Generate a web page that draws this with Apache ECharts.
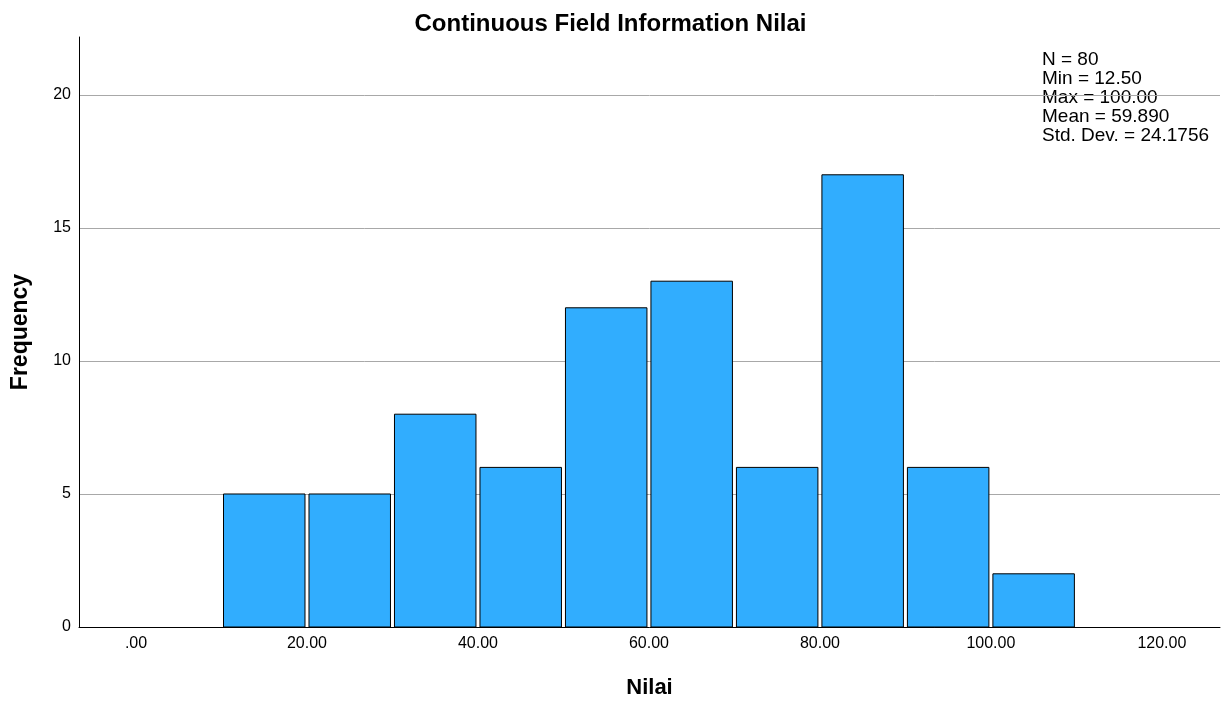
<!DOCTYPE html>
<html><head><meta charset="utf-8">
<script src="https://cdn.jsdelivr.net/npm/echarts@6/dist/echarts.min.js"></script>
<style>html,body{margin:0;padding:0;background:#fff}#c{width:1221px;height:704px}</style>
</head><body><div id="c"></div>
<script>
var binStarts = [10, 20, 30, 40, 50, 60, 70, 80, 90, 100];
var binWidth = 10;
var counts = [5, 5, 8, 6, 12, 13, 6, 17, 6, 2];
var xTicks = [0, 20, 40, 60, 80, 100, 120];
var yTicks = [0, 5, 10, 15, 20];
var statsLines = ['N = 80', 'Min = 12.50', 'Max = 100.00', 'Mean = 59.890', 'Std. Dev. = 24.1756'];

var font = 'Liberation Sans, Arial, sans-serif';
var data = binStarts.map(function (s, i) { return [s, s + binWidth, counts[i]]; });

var chart = echarts.init(document.getElementById('c'));
chart.setOption({
  animation: false,
  title: {
    text: 'Continuous Field Information Nilai', left: 'center', top: 7,
    textStyle: { fontFamily: font, fontWeight: 'bold', fontSize: 24, color: '#000' }
  },
  grid: { left: 79, right: 1, top: 37, bottom: 77 },
  xAxis: {
    type: 'value', min: -6.67, max: 126.8,
    name: 'Nilai', nameLocation: 'middle', nameGap: 50,
    nameTextStyle: { fontFamily: font, fontWeight: 'bold', fontSize: 22, color: '#000' },
    axisLine: { show: true, onZero: false, lineStyle: { color: '#000', width: 1 } },
    axisTick: { show: false, customValues: xTicks },
    splitLine: { show: false },
    axisLabel: {
      customValues: xTicks, margin: 9,
      fontFamily: font, fontSize: 16, color: '#000',
      formatter: function (v) { return v === 0 ? '.00' : v.toFixed(2); }
    }
  },
  yAxis: {
    type: 'value', min: 0, max: 22.18, interval: 5,
    name: 'Frequency', nameLocation: 'middle', nameGap: 47,
    nameTextStyle: { fontFamily: font, fontWeight: 'bold', fontSize: 23, color: '#000' },
    axisLine: { show: true, onZero: false, lineStyle: { color: '#000', width: 1 } },
    axisTick: { show: false },
    axisLabel: {
      fontFamily: font, fontSize: 16, color: '#000', margin: 8, showMaxLabel: false,
      formatter: function (v) { return yTicks.indexOf(v) >= 0 ? String(v) : ''; }
    },
    splitLine: { show: true, showMaxLine: false, lineStyle: { color: '#a8a8a8', width: 1 } }
  },
  series: [{
    type: 'custom',
    data: data,
    encode: { x: [0, 1], y: 2 },
    renderItem: function (params, api) {
      var p0 = api.coord([api.value(0), api.value(2)]);
      var p1 = api.coord([api.value(1), 0]);
      var inset = 2;
      return {
        type: 'rect',
        shape: { x: p0[0] + inset, y: p0[1], width: p1[0] - p0[0] - 2 * inset, height: p1[1] - p0[1] },
        style: { fill: '#31adfe', stroke: '#000', lineWidth: 1 }
      };
    }
  }],
  graphic: [{
    type: 'text', left: 1042, top: 50,
    style: {
      text: statsLines.join('\n'), fontFamily: font, fontSize: 19, lineHeight: 19,
      fill: '#000'
    }
  }]
});
</script></body></html>
